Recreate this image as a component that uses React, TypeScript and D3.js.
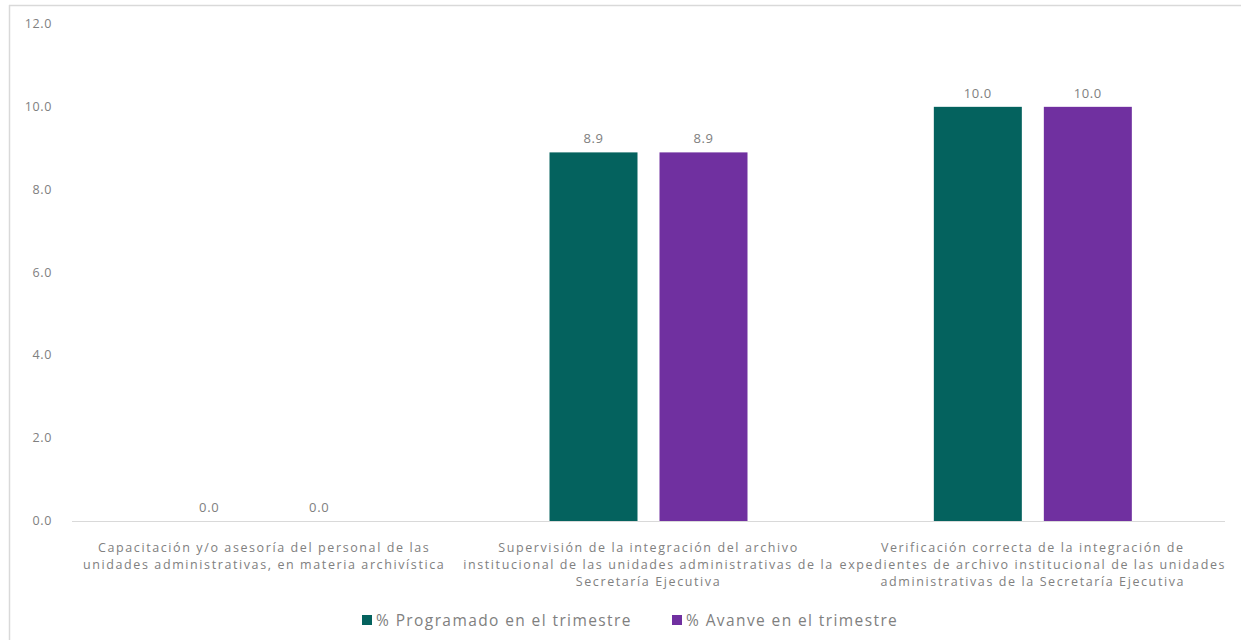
import React from "react";
import * as d3 from "d3";

const categories = [
  ["Capacitación y/o asesoría  del personal de las", "unidades administrativas, en materia archivística"],
  ["Supervisión de la integración del archivo", "institucional de las unidades administrativas de la", "Secretaría Ejecutiva"],
  ["Verificación correcta de la integración de", "expedientes de archivo institucional de las unidades", "administrativas de la Secretaría Ejecutiva"],
];
const programado = [0.0, 8.9, 10.0];
const avance = [0.0, 8.9, 10.0];
const yTicks = [0, 2, 4, 6, 8, 10, 12];
const seriesNames = ["% Programado en el trimestre", "% Avanve en el trimestre"];
const colors = ["#04625e", "#7030a0"];

export default function App() {
  const W = 1241, H = 640;
  const left = 72, right = 1225, top = 24, bottom = 521;
  const x = d3.scaleBand<number>().domain([0, 1, 2]).range([left, right]);
  const y = d3.scaleLinear().domain([0, 12]).range([bottom, top]);
  const barW = 88, gap = 22;
  const font = "'Open Sans', sans-serif";
  const grey = "#808080";
  const series = [programado, avance];
  return (
    <svg width={W} height={H} style={{ position: "absolute", left: 0, top: 0 }} fontFamily={font}>
      <rect x={0} y={0} width={W} height={H} fill="#fff" />
      <line x1={9.5} y1={5} x2={9.5} y2={H} stroke="#d9d9d9" strokeWidth={1.5} />
      <line x1={9} y1={5.5} x2={W} y2={5.5} stroke="#d9d9d9" strokeWidth={1.5} />
      {yTicks.map((t) => (
        <text key={t} x={52} y={y(t) + 4} textAnchor="end" fontSize={12.5} letterSpacing={0.6} fill={grey}>
          {t.toFixed(1)}
        </text>
      ))}
      <line x1={left} x2={right} y1={bottom + 0.5} y2={bottom + 0.5} stroke="#d9d9d9" strokeWidth={1} />
      {categories.map((c, i) => {
        const cx = (x(i) as number) + x.bandwidth() / 2;
        return (
          <g key={i}>
            {series.map((s, k) => {
              const bx = k === 0 ? cx - gap / 2 - barW : cx + gap / 2;
              const v = s[i];
              return (
                <g key={k}>
                  {v > 0 && (
                    <rect x={bx} y={y(v)} width={barW} height={bottom - y(v)} fill={colors[k]} />
                  )}
                  <text x={bx + barW / 2} y={y(v) - 9} textAnchor="middle" fontSize={13} letterSpacing={0.6} fill={grey}>
                    {v.toFixed(1)}
                  </text>
                </g>
              );
            })}
            {c.map((line, j) => (
              <text key={j} x={cx} y={552 + j * 17} textAnchor="middle" fontSize={12.5} letterSpacing={1.6} fill={grey}>
                {line}
              </text>
            ))}
          </g>
        );
      })}
      {seriesNames.map((n, k) => {
        const lx = k === 0 ? 362 : 672;
        return (
          <g key={k}>
            <rect x={lx} y={615} width={10} height={10} fill={colors[k]} />
            <text x={lx + 14} y={626} fontSize={15.5} letterSpacing={1.4} fill={grey}>
              {n}
            </text>
          </g>
        );
      })}
    </svg>
  );
}
